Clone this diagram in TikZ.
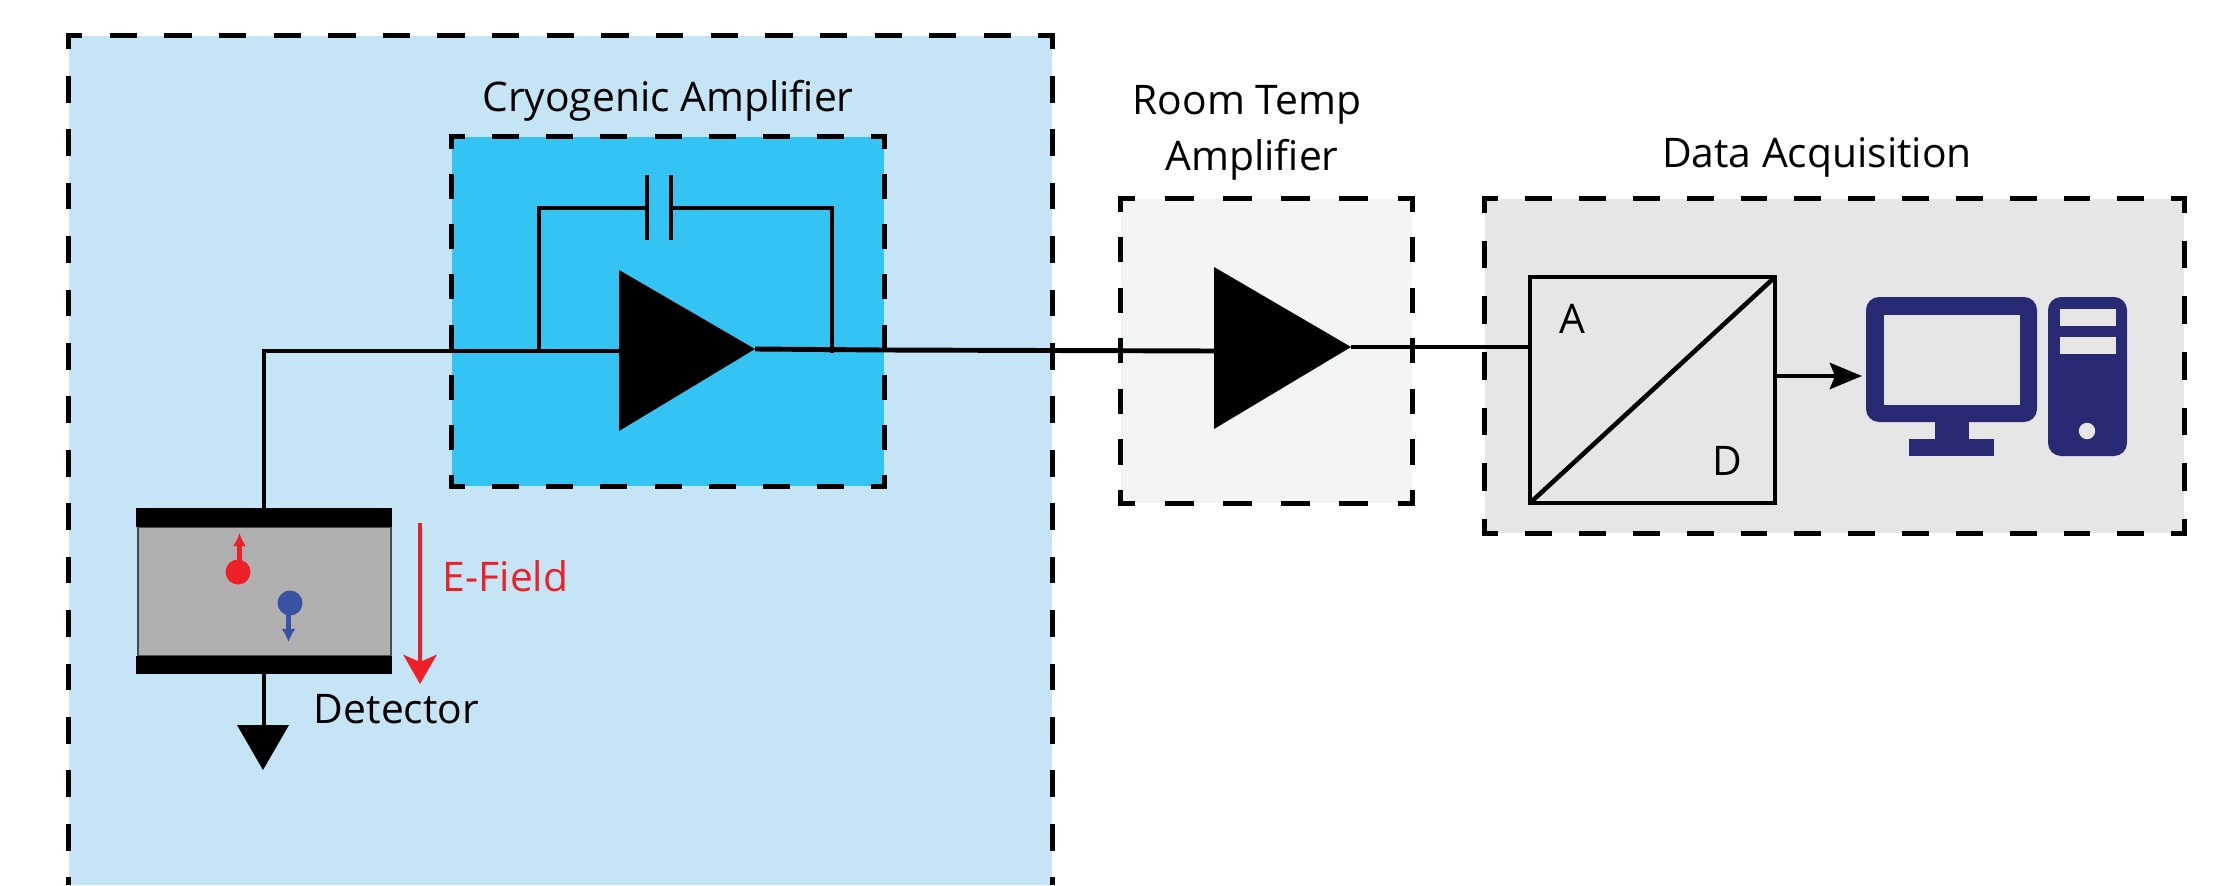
\documentclass[tikz,border=0pt]{standalone}
\usepackage{fontspec}
\setmainfont{Open Sans}
\usetikzlibrary{arrows.meta}
\definecolor{cryobg}{HTML}{C5E5F7}
\definecolor{cryobox}{HTML}{33C4F4}
\definecolor{roombox}{HTML}{F3F4F6}
\definecolor{daqbox}{HTML}{E6E6E6}
\definecolor{detgray}{HTML}{B0B0B0}
\definecolor{pcblue}{HTML}{282A73}
\definecolor{efred}{HTML}{EE2027}
\definecolor{holeblue}{HTML}{3953A4}
\tikzset{
  dashedge/.style 2 args={line width=1.4pt,dash pattern=on #1 off #1,dash phase=#2},
  solidbox/.style={inner sep=0pt,outer sep=0pt},
  wire/.style={line width=1.4pt},
  label/.style={anchor=base,font=\fontsize{11.6pt}{14pt}\selectfont,inner sep=0pt}
}
\newcommand{\dashcorner}[1]{\fill ([shift={(-0.7pt,-0.7pt)}]#1) rectangle ++(1.4pt,1.4pt);}
\newcommand{\dashrect}[5]{
\draw[dashedge={#2}{#3}] (#1.north west) -- (#1.north east);
\draw[dashedge={#2}{#3}] (#1.south west) -- (#1.south east);
\draw[dashedge={#4}{#5}] (#1.north west) -- (#1.south west);
\draw[dashedge={#4}{#5}] (#1.north east) -- (#1.south east);
\foreach \c in {north west,north east,south west,south east} {\dashcorner{#1.\c}}
}
\begin{document}
\begin{tikzpicture}[x=0.01cm,y=-0.01cm]
\useasboundingbox (0,0) rectangle (2228,885);
\node at (560.5,460.5) [solidbox,fill=cryobg,minimum width=9.83cm,minimum height=8.49cm] (outer) {};
\draw[dashedge={0.273cm}{0.1365cm}] (outer.north west) -- (outer.north east);
\draw[dashedge={0.267cm}{0.1335cm}] (outer.north west) -- (outer.south west);
\draw[dashedge={0.267cm}{0.1335cm}] (outer.north east) -- (outer.south east);
\dashcorner{outer.north west}
\dashcorner{outer.north east}

\node at (668,311.5) [solidbox,fill=cryobox,minimum width=4.32cm,minimum height=3.49cm] (cryo) {};
\dashrect{cryo}{0.27cm}{0.135cm}{0.25cm}{0.125cm}
\node at (1266.5,351) [solidbox,fill=roombox,minimum width=2.91cm,minimum height=3.04cm] (room) {};
\dashrect{room}{0.291cm}{0.1455cm}{0.253cm}{0.1265cm}
\node at (1834.5,366) [solidbox,fill=daqbox,minimum width=6.99cm,minimum height=3.34cm] (daq) {};
\dashrect{daq}{0.269cm}{0.1345cm}{0.278cm}{0.139cm}

\node at (668,112) [label] (cryolabel) {Cryogenic Amplifier};
\node at (1247,115) [label] (roomlabel) {Room Temp};
\node at (1252,170) [label] (amplabel) {Amplifier};
\node at (1817,168) [label] (daqlabel) {Data Acquisition};

\coordinate (ampin) at (619,351);
\coordinate (ampout) at (755,349);
\coordinate (rampin) at (1214,351);
\coordinate (rampout) at (1351,347);
\fill (619,270) -- (ampout) -- (619,431) -- cycle;
\fill (1214,267) -- (rampout) -- (1214,429) -- cycle;

\node at (264.5,591.5) [solidbox,draw=black!70,line width=0.5pt,fill=detgray,minimum width=2.53cm,minimum height=1.29cm] (detbody) {};
\node at (264,517.5) [solidbox,fill=black,minimum width=2.56cm,minimum height=0.19cm] (platetop) {};
\node at (264,665) [solidbox,fill=black,minimum width=2.56cm,minimum height=0.18cm] (platebot) {};

\coordinate (feedin) at (539,351);
\coordinate (feedout) at (832,353);
\coordinate (capa) at (647,208);
\coordinate (capb) at (671,208);
\draw[wire] (platetop.north) |- (ampin);
\draw[wire] (feedin) |- (capa);
\draw[wire] (capb) -| (feedout);
\draw[wire] (647,175) -- (647,240);
\draw[wire] (671,175) -- (671,240);
\draw[wire] (ampout) -- (884,350) -- (rampin);

\coordinate (gnd) at (264,725);
\draw[wire] (platebot.south) -- (gnd);
\fill (237,725) -- (289,725) -- (263,770) -- cycle;

\fill[efred] (238,572) circle (12.5);
\draw[efred,line width=1.4pt,-{Latex[length=0.13cm,width=0.13cm]}] (239.5,561) -- (239.5,533);
\fill[holeblue] (290,603) circle (12.5);
\draw[holeblue,line width=1.4pt,-{Latex[length=0.13cm,width=0.14cm]}] (288.5,614) -- (288.5,642);

\coordinate (efieldtop) at (420,523);
\coordinate (efieldtip) at (420,684);
\draw[efred,line width=1.4pt,-{Stealth[length=0.29cm,width=0.33cm,inset=0.07cm]}] (efieldtop) -- (efieldtip);
\node at (505.5,591) [label,text=efred] (efield) {E-Field};
\node at (396.5,723) [label] (detlabel) {Detector};

\node at (1652.5,390) [solidbox,draw,line width=1.3pt,minimum width=2.45cm,minimum height=2.26cm] (adc) {};
\draw[line width=1.3pt] (adc.south west) -- (adc.north east);
\node at (1572,333) [label] (alabel) {A};
\node at (1727,475) [label] (dlabel) {D};
\draw[wire] (rampout) -- (1530,347);

\coordinate (adcout) at (1775,376);
\coordinate (pcin) at (1862,376);
\draw[wire,-{Stealth[length=0.32cm,width=0.26cm,inset=0.05cm]}] (adcout) -- (pcin);

\fill[pcblue,rounded corners=0.13cm] (1866,297) rectangle (2037,422);
\fill[daqbox] (1884,315) rectangle (2020,405);
\fill[pcblue] (1935,420) rectangle (1969,441);
\fill[pcblue] (1909,439) rectangle (1994,456);
\fill[pcblue,rounded corners=0.13cm] (2048,297) rectangle (2127,456);
\fill[daqbox] (2060,309) rectangle (2116,326);
\fill[daqbox] (2060,337) rectangle (2116,354);
\fill[daqbox] (2087,431) circle (8.2);
\end{tikzpicture}
\end{document}
